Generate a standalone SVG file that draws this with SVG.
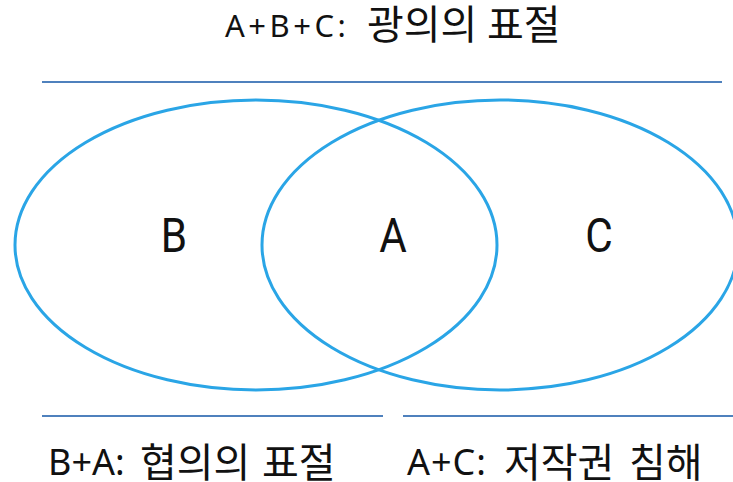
<svg xmlns="http://www.w3.org/2000/svg" width="733" height="482" viewBox="0 0 733 482">
<style>
.e{fill:none;stroke:#2aa5e6;stroke-width:3}
.l{stroke:#4f81bd;stroke-width:2}
.ko{font-family:"Noto Sans CJK KR","Noto Sans",sans-serif;fill:#111;font-size:40px}
.lat{font-family:"Noto Sans","Noto Sans CJK KR",sans-serif;fill:#111}
.s{font-family:Roboto,"Noto Sans",sans-serif;font-weight:400;font-size:48px;fill:#111;text-anchor:middle}
</style>
<rect width="733" height="482" fill="#fff"/>
<g id="lines">
<line class="l" x1="42" y1="82" x2="722" y2="82"/>
<line class="l" x1="42" y1="416" x2="383" y2="416"/>
<line class="l" x1="403" y1="416" x2="733" y2="416"/>
</g>
<g id="setB"><ellipse class="e" cx="256" cy="245" rx="241" ry="145"/><text class="s" transform="translate(174,252) scale(0.88,1)">B</text></g>
<g id="setC"><ellipse class="e" cx="500" cy="245" rx="238" ry="145"/><text class="s" transform="translate(599,252) scale(0.88,1)">C</text></g>
<g id="setA"><text class="s" transform="translate(393,252) scale(0.88,1)">A</text></g>
<g id="title">
<text class="lat" x="225" y="37" font-size="31" letter-spacing="3.5">A+B+C:</text>
<text class="ko" x="367" y="39">광의의</text>
<text class="ko" x="487" y="39">표절</text>
</g>
<g id="labelBA">
<text class="lat" x="48" y="475" font-size="36">B+A:</text>
<text class="ko" x="140" y="477">협의의</text>
<text class="ko" x="262" y="477">표절</text>
</g>
<g id="labelAC">
<text class="lat" x="407" y="475" font-size="36" letter-spacing="1">A+C:</text>
<text class="ko" x="504" y="477">저작권</text>
<text class="ko" x="629" y="477">침해</text>
</g>
</svg>
